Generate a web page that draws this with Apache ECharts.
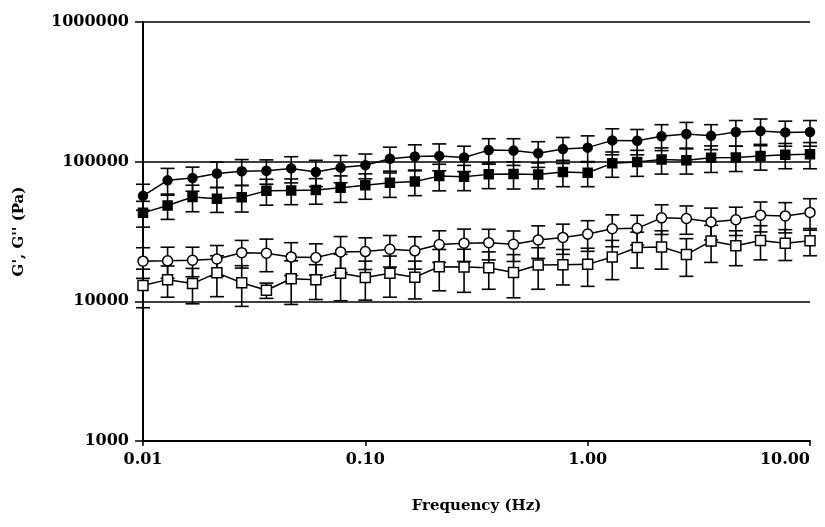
<!DOCTYPE html>
<html>
<head>
<meta charset="utf-8">
<script src="https://cdn.jsdelivr.net/npm/echarts@6/dist/echarts.min.js"></script>
<style>
html, body { margin: 0; padding: 0; background: #fff; }
#canvas_modulus { width: 825px; height: 527px; }
</style>
</head>
<body>
<div id="canvas_modulus"></div>
<script>
// frequency sweep, 9 points per decade
var freq = [0.01, 0.0129, 0.0167, 0.0215, 0.0278, 0.0359, 0.0464, 0.0599, 0.0774,
            0.1, 0.129, 0.167, 0.215, 0.278, 0.359, 0.464, 0.599, 0.774,
            1, 1.29, 1.67, 2.15, 2.78, 3.59, 4.64, 5.99, 7.74, 10];

// filled circles
var g_fc = [56900, 73500, 76400, 82300, 85500, 86000, 89500, 84300, 90700, 94400,
            105000, 109000, 110000, 107000, 121000, 120000, 115000, 123000, 126000,
            142000, 141000, 152000, 158000, 153000, 163000, 166000, 162000, 163000];
var sd_fc = [12000, 16000, 15000, 17000, 18000, 17000, 19000, 18000, 20000, 19000,
             22000, 23000, 24000, 22000, 25000, 26000, 24000, 26000, 27000,
             30000, 29000, 32000, 33000, 31000, 34000, 36000, 33000, 34000];

// filled squares
var g_fs = [43000, 48600, 55800, 54300, 55600, 61800, 62200, 62600, 65100, 67800,
            70500, 72100, 78800, 78000, 81100, 81700, 80900, 84200, 83200,
            97300, 99500, 103500, 102500, 106700, 107000, 110000, 112000, 113000];
var sd_fs = [9000, 10000, 12000, 11000, 12000, 13000, 13000, 13000, 14000, 14000,
             15000, 15000, 17000, 16000, 17000, 18000, 17000, 18000, 17000,
             20000, 21000, 22000, 21000, 23000, 22000, 23000, 23000, 24000];

// open circles
var g_oc = [19400, 19500, 19700, 20100, 22300, 22100, 20800, 20600, 22600, 22700,
            23600, 23000, 25500, 26100, 26300, 25600, 27500, 28700, 30300,
            33100, 33300, 39600, 39200, 37000, 38400, 41400, 40900, 43300];
var sd_oc = [4800, 4900, 4700, 5000, 5000, 5800, 5500, 5200, 6500, 5800,
             6000, 6000, 6500, 6800, 6500, 6300, 7200, 7000, 7500,
             8500, 8000, 9500, 9000, 9500, 8800, 10000, 10000, 11000];

// open squares
var g_os = [13000, 14300, 13400, 16000, 13600, 12000, 14500, 14300, 15900, 14800,
            15900, 14900, 17700, 17600, 17400, 16100, 18200, 18300, 18400,
            20800, 24300, 24500, 21600, 27000, 25000, 27300, 26100, 27200];
var sd_os = [4000, 3600, 3800, 5200, 4400, 1500, 5000, 4000, 5800, 4600,
             5200, 4500, 5800, 6000, 5200, 5500, 6000, 5200, 5600,
             6500, 7000, 7500, 6500, 8000, 7000, 7500, 6500, 6000];

function pairs(vals){
    var out = [];
    for (var i = 0; i < freq.length; i++) out.push([freq[i], vals[i]]);
    return out;
}
function err_range(vals, sd){
    var out = [];
    for (var i = 0; i < freq.length; i++) out.push([freq[i], vals[i] - sd[i], vals[i] + sd[i]]);
    return out;
}
function render_err(params, api){
    var x = api.value(0);
    var top = api.coord([x, api.value(2)]);
    var bot = api.coord([x, api.value(1)]);
    var w = 7;
    var st = { stroke: '#000', lineWidth: 1.6 };
    return {
        type: 'group',
        children: [
            { type: 'line', shape: { x1: top[0], y1: top[1], x2: bot[0], y2: bot[1] }, style: st },
            { type: 'line', shape: { x1: top[0] - w, y1: top[1], x2: top[0] + w, y2: top[1] }, style: st },
            { type: 'line', shape: { x1: bot[0] - w, y1: bot[1], x2: bot[0] + w, y2: bot[1] }, style: st }
        ]
    };
}
function err_series(vals, sd){
    return {
        type: 'custom',
        renderItem: render_err,
        encode: { x: 0, y: [1, 2] },
        data: err_range(vals, sd),
        z: 2,
        silent: true
    };
}
function line_series(name, vals, symbol, size, filled){
    return {
        name: name,
        type: 'line',
        data: pairs(vals),
        symbol: symbol,
        symbolSize: size,
        showAllSymbol: true,
        lineStyle: { color: '#000', width: 1.5 },
        itemStyle: {
            color: filled ? '#000' : '#fff',
            borderColor: '#000',
            borderWidth: 1.5
        },
        z: 5
    };
}

var font = 'DejaVu Serif';
var option_modulus = {
    animation: false,
    backgroundColor: '#fff',
    grid: { left: 143, right: 15, top: 22, bottom: 86, outerBoundsMode: 'none' },
    xAxis: {
        type: 'log',
        logBase: 10,
        min: 0.01,
        max: 10,
        name: 'Frequency (Hz)',
        nameLocation: 'middle',
        nameGap: 58,
        nameTextStyle: { fontFamily: font, fontWeight: 'bold', fontSize: 15, color: '#000' },
        axisLine: { lineStyle: { color: '#000', width: 2 } },
        axisTick: { show: true, length: 5, lineStyle: { color: '#000', width: 1.5 } },
        minorTick: { show: false },
        splitLine: { show: false },
        axisLabel: {
            margin: 11,
            alignMaxLabel: 'right',
            fontFamily: font, fontWeight: 'bold', fontSize: 16, color: '#000',
            formatter: function(v){ return v.toFixed(2); }
        }
    },
    yAxis: {
        type: 'log',
        logBase: 10,
        min: 1000,
        max: 1000000,
        name: "G', G'' (Pa)",
        nameLocation: 'middle',
        nameRotate: 90,
        nameGap: 116,
        nameTextStyle: { fontFamily: font, fontWeight: 'bold', fontSize: 15, color: '#000' },
        axisLine: { lineStyle: { color: '#000', width: 2 } },
        axisTick: { show: true, length: 8, lineStyle: { color: '#000', width: 1.5 } },
        splitLine: { show: true, lineStyle: { color: '#000', width: 1.5 } },
        axisLabel: {
            margin: 14,
            fontFamily: font, fontWeight: 'bold', fontSize: 16, color: '#000',
            formatter: function(v){ return String(Math.round(v)); }
        }
    },
    series: [
        err_series(g_fc, sd_fc),
        err_series(g_fs, sd_fs),
        err_series(g_oc, sd_oc),
        err_series(g_os, sd_os),
        line_series('G1', g_fc, 'circle', 9, true),
        line_series('G2', g_fs, 'rect', 9, true),
        line_series('G3', g_oc, 'circle', 10, false),
        line_series('G4', g_os, 'rect', 10, false)
    ]
};

var echarts_modulus = echarts.init(document.getElementById('canvas_modulus'));
echarts_modulus.setOption(option_modulus);
</script>
</body>
</html>
